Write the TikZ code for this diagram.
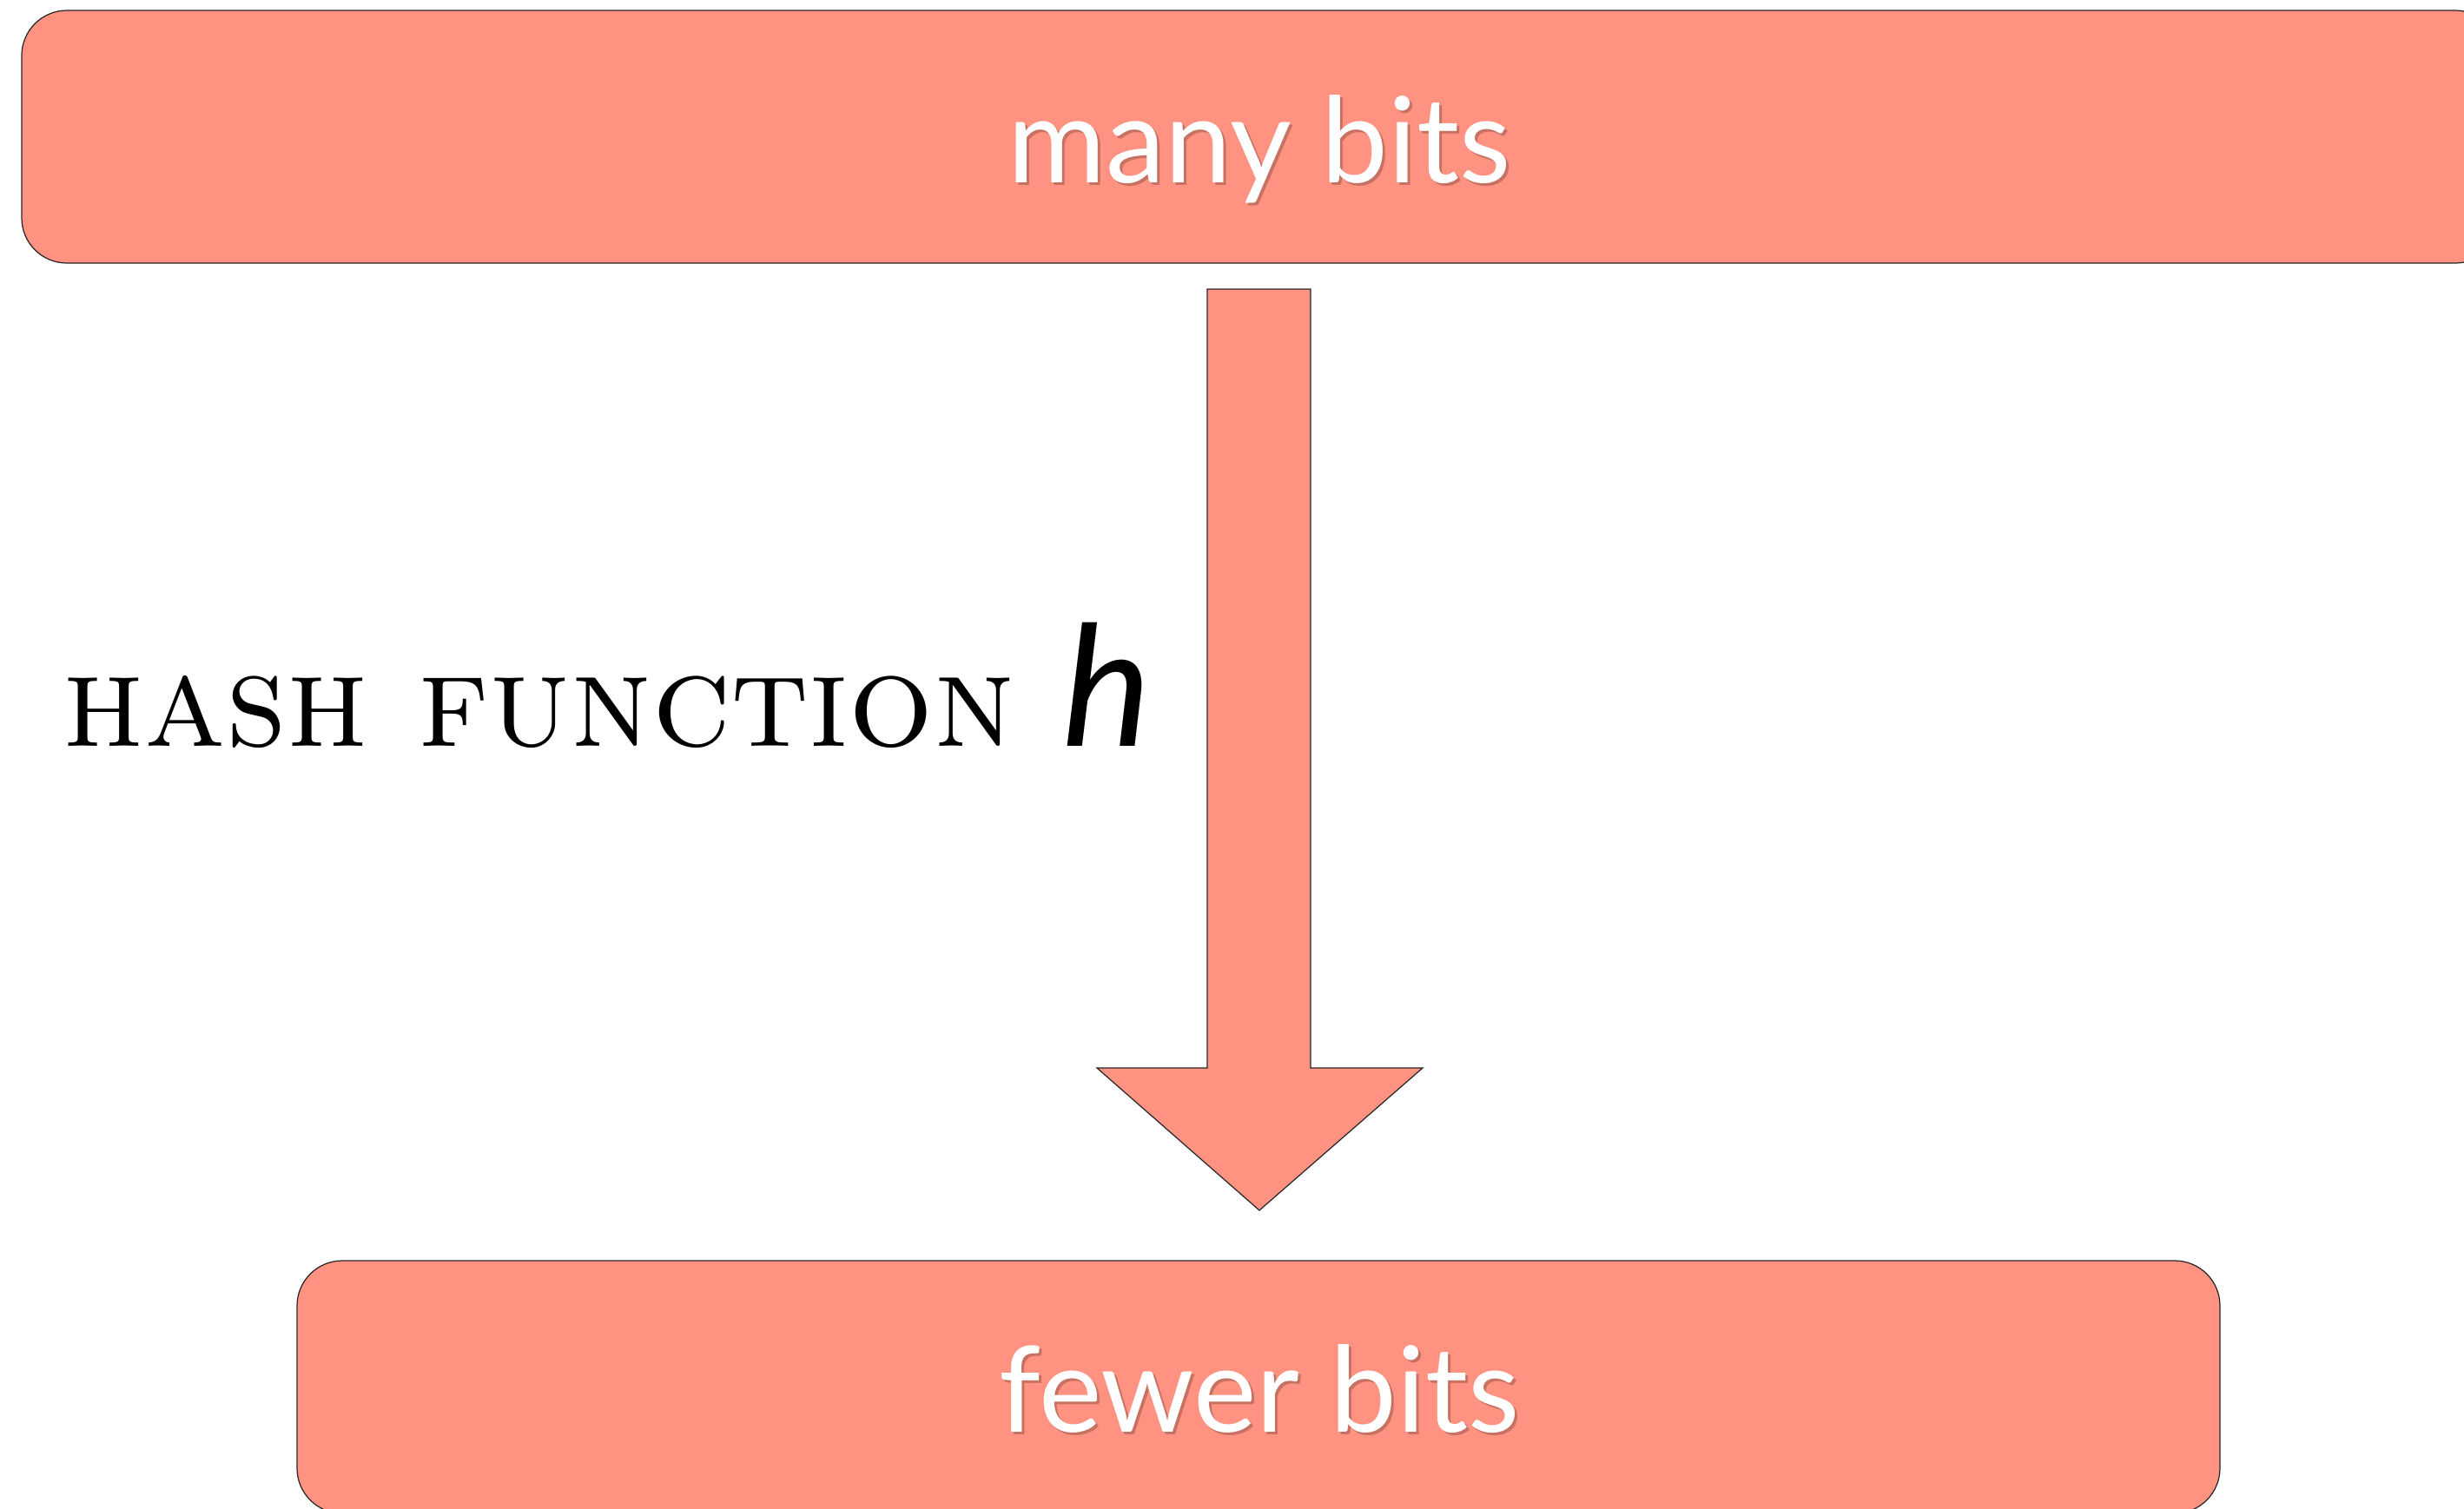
\documentclass[tikz,border=0pt]{standalone}
\usepackage{fontspec}
\newfontfamily\gill{Lato}
\usetikzlibrary{calc}
\definecolor{salmon}{RGB}{255,146,128}
\tikzset{
  bar/.style={draw=black!85, line width=0.35pt, fill=salmon, rounded corners=0.52cm},
  blockarrow/.style={draw=black!85, line width=0.35pt, fill=salmon},
  boxtext/.style={font=\gill\fontsize{39}{46}\selectfont, text=white, inner sep=0pt, anchor=base},
  boxshadow/.style={font=\gill\fontsize{39}{46}\selectfont, text=black, opacity=0.22, inner sep=0pt, anchor=base},
  label/.style={inner sep=0pt, anchor=base west, text=black}
}
\begin{document}
\begin{tikzpicture}[x=1cm,y=1cm]
\useasboundingbox (0,0) rectangle (28.37,-17.37);
\clip (0,0) rectangle (28.37,-17.37);
% boxes
\draw[bar] (0.25,-0.12) rectangle (28.79,-3.03);
\draw[bar] (3.42,-14.52) rectangle (25.56,-17.43);
% block arrow
\coordinate (atop) at (14.495,-3.33);
\coordinate (atip) at (14.50,-13.94);
\draw[blockarrow] ([xshift=-0.595cm]atop) -- ([xshift=0.595cm]atop)
  -- ([xshift=0.595cm]atop |- 0,-12.30) -- (16.38,-12.30)
  -- (atip) -- (12.63,-12.30) -- ([xshift=-0.595cm]atop |- 0,-12.30) -- cycle;
% texts
\node[boxshadow] (manys) at (14.53,-2.13) {many bits};
\node[boxtext] (many) at (14.50,-2.10) {many bits};
\node[boxshadow] (fewers) at (14.53,-16.52) {fewer bits};
\node[boxtext] (fewer) at (14.50,-16.49) {fewer bits};
\node[label] (hash) at (0.72,-8.59) {\fontsize{43.5}{52}\selectfont\textsc{hash function}\hspace{0.55cm}{\gill\itshape\fontsize{55}{64}\selectfont h}};
\end{tikzpicture}
\end{document}
